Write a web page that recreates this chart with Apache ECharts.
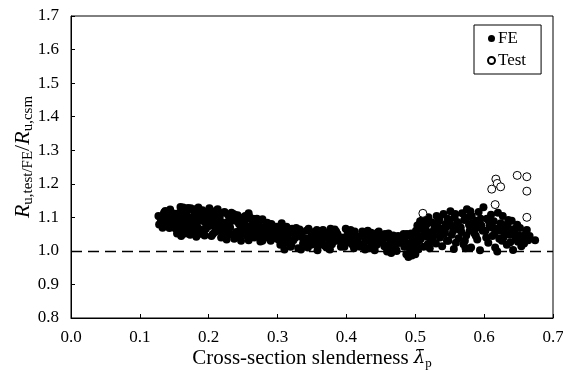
<!DOCTYPE html>
<html>
<head>
<meta charset="utf-8">
<script src="https://cdn.jsdelivr.net/npm/echarts@6/dist/echarts.min.js"></script>
<style>
html,body{margin:0;padding:0;background:#fff;}
#chart{width:563px;height:374px;}
</style>
</head>
<body>
<div id="chart"></div>
<script>
// x-axis ticks and y-axis ticks
var xTicks = [0.0, 0.1, 0.2, 0.3, 0.4, 0.5, 0.6, 0.7];
var yTicks = [0.8, 0.9, 1.0, 1.1, 1.2, 1.3, 1.4, 1.5, 1.6, 1.7];
var refLineY = 1.0;

// FE results grouped by slenderness range [lambda_p, R_ratio]
var feA = [
[0.127,1.104],[0.131,1.091],[0.128,1.079],[0.135,1.113],[0.130,1.097],[0.139,1.084],[0.133,1.069],[0.142,1.105],[0.137,1.119],[0.146,1.089],
[0.141,1.074],[0.150,1.101],[0.144,1.123],[0.153,1.083],[0.148,1.111],[0.157,1.061],[0.152,1.095],[0.161,1.126],[0.155,1.071],[0.164,1.107],
[0.158,1.087],[0.168,1.119],[0.154,1.052],[0.171,1.093],[0.163,1.129],[0.175,1.079],[0.167,1.113],[0.178,1.065],[0.172,1.099],[0.182,1.125],
[0.176,1.085],[0.186,1.109],[0.180,1.072],[0.159,1.131],[0.189,1.091],[0.184,1.117],[0.193,1.058],[0.187,1.103],[0.196,1.081],[0.191,1.121],
[0.169,1.055],[0.199,1.097],[0.194,1.112],[0.145,1.075],[0.174,1.127],[0.138,1.094],[0.149,1.103],[0.183,1.068],[0.166,1.118],[0.197,1.083],
[0.143,1.098],[0.177,1.122],[0.188,1.064],[0.156,1.108],[0.195,1.088],[0.140,1.115],[0.162,1.077],[0.185,1.129],[0.151,1.093],[0.173,1.048],
[0.198,1.106],[0.147,1.081],[0.181,1.117],[0.165,1.070],[0.192,1.100],[0.136,1.107],[0.170,1.086],[0.190,1.110],[0.160,1.044],[0.179,1.095],
[0.134,1.085],[0.200,1.074],
[0.136,1.116],[0.140,1.101],[0.143,1.068],[0.145,1.117],[0.148,1.097],[0.151,1.082],[0.153,1.111],[0.156,1.090],[0.158,1.076],[0.160,1.122],
[0.163,1.098],[0.165,1.084],[0.167,1.106],[0.170,1.128],[0.173,1.092],[0.175,1.062],[0.177,1.102],[0.180,1.088],[0.183,1.074],[0.185,1.100],
[0.188,1.118],[0.190,1.056],[0.193,1.088],[0.196,1.066],[0.199,1.100],
[0.158,1.060],[0.166,1.052],[0.176,1.058],[0.186,1.050],[0.194,1.046],[0.171,1.066],[0.152,1.066],[0.182,1.042]
];
var feB = [
[0.203,1.112],[0.208,1.094],[0.201,1.127],[0.214,1.068],[0.206,1.104],[0.219,1.084],[0.211,1.120],[0.224,1.046],[0.216,1.098],[0.229,1.076],
[0.221,1.114],[0.234,1.090],[0.226,1.060],[0.239,1.106],[0.213,1.124],[0.244,1.080],[0.231,1.096],[0.249,1.052],[0.236,1.110],[0.254,1.070],
[0.241,1.088],[0.259,1.102],[0.246,1.064],[0.264,1.096],[0.251,1.082],[0.268,1.094],[0.256,1.044],[0.273,1.086],[0.261,1.074],[0.278,1.094],
[0.266,1.086],[0.283,1.058],[0.223,1.116],[0.288,1.078],[0.271,1.088],[0.293,1.066],[0.228,1.108],[0.297,1.072],[0.276,1.050],[0.243,1.102],
[0.281,1.072],[0.205,1.088],[0.233,1.114],[0.286,1.052],[0.210,1.094],[0.291,1.080],[0.238,1.040],[0.253,1.104],[0.218,1.070],[0.296,1.060],
[0.263,1.056],[0.248,1.098],[0.202,1.076],[0.258,1.112],[0.284,1.064],[0.227,1.086],[0.269,1.046],[0.212,1.104],[0.299,1.048],[0.232,1.102],
[0.274,1.058],[0.217,1.084],[0.289,1.038],[0.237,1.096],[0.279,1.040],[0.222,1.078],[0.252,1.090],[0.294,1.054],[0.242,1.106],[0.257,1.070],
[0.267,1.080],[0.282,1.048],[0.207,1.076],[0.262,1.094],[0.277,1.060],[0.247,1.082],[0.292,1.036],[0.215,1.060],[0.287,1.070],[0.230,1.052],
[0.272,1.074],[0.255,1.096],[0.298,1.042],[0.225,1.066],[0.285,1.084],[0.240,1.056],[0.290,1.030],[0.250,1.072],[0.270,1.096],[0.235,1.048],
[0.260,1.064],[0.245,1.080],[0.280,1.038],[0.220,1.058],[0.265,1.076],[0.204,1.044],[0.295,1.068],[0.275,1.028],[0.209,1.056],[0.300,1.072],
[0.213,1.090],[0.218,1.040],[0.226,1.034],[0.231,1.070],[0.237,1.036],[0.244,1.042],[0.252,1.050],[0.258,1.032],[0.263,1.052],
[0.271,1.062],[0.278,1.030],[0.286,1.046],[0.293,1.062],[0.206,1.050],[0.247,1.030],[0.266,1.040]
];
var feC = [
[0.302,1.050],[0.306,1.082],[0.301,1.034],[0.309,1.062],[0.304,1.018],[0.313,1.072],[0.307,1.044],[0.317,1.056],[0.311,1.026],[0.321,1.066],
[0.315,1.040],[0.325,1.052],[0.319,1.012],[0.329,1.064],[0.323,1.032],[0.333,1.046],[0.327,1.068],[0.337,1.022],[0.331,1.058],[0.341,1.036],
[0.335,1.048],[0.345,1.066],[0.339,1.014],[0.349,1.042],[0.343,1.028],[0.353,1.056],[0.347,1.038],[0.357,1.062],[0.351,1.020],[0.361,1.050],
[0.355,1.034],[0.365,1.060],[0.359,1.016],[0.369,1.044],[0.363,1.026],[0.373,1.054],[0.367,1.038],[0.377,1.066],[0.371,1.010],[0.381,1.048],
[0.375,1.030],[0.385,1.058],[0.379,1.020],[0.389,1.042],[0.383,1.064],[0.393,1.028],[0.387,1.050],[0.397,1.012],[0.391,1.036],[0.305,1.056],
[0.395,1.022],[0.312,1.046],[0.399,1.066],[0.318,1.030],[0.324,1.052],[0.330,1.008],[0.336,1.040],[0.342,1.060],[0.348,1.018],[0.354,1.044],
[0.360,1.028],[0.366,1.062],[0.372,1.014],[0.378,1.050],[0.384,1.034],
[0.303,1.042],[0.308,1.024],[0.314,1.056],[0.320,1.018],[0.326,1.040],[0.332,1.064],[0.338,1.034],[0.344,1.010],[0.350,1.044],[0.356,1.058],
[0.362,1.032],[0.368,1.016],[0.374,1.048],[0.380,1.062],[0.386,1.030],[0.392,1.012],[0.396,1.040],[0.398,1.022],[0.310,1.004],[0.334,1.004],
[0.358,1.002],[0.376,1.004]
];
var feD = [
[0.402,1.056],[0.407,1.024],[0.404,1.046],[0.411,1.008],[0.406,1.062],[0.415,1.032],[0.409,1.050],[0.419,1.016],[0.413,1.040],[0.423,1.058],
[0.417,1.026],[0.427,1.004],[0.421,1.044],[0.431,1.060],[0.425,1.018],[0.435,1.036],[0.429,1.052],[0.439,1.010],[0.433,1.030],[0.443,1.048],
[0.437,1.020],[0.447,1.058],[0.441,1.002],[0.451,1.038],[0.445,1.054],[0.455,1.014],[0.449,1.034],[0.459,0.998],[0.453,1.046],[0.463,1.022],
[0.457,1.040],[0.467,1.006],[0.461,1.052],[0.471,1.028],[0.465,0.994],[0.475,1.044],[0.469,1.016],[0.479,1.036],[0.473,1.000],[0.483,1.050],
[0.477,1.024],[0.487,0.990],[0.481,1.040],[0.491,1.010],[0.485,1.030],[0.495,0.986],[0.489,1.046],[0.498,1.018],[0.493,0.996],[0.497,1.034],
[0.403,1.038],[0.408,1.020],[0.412,1.058],[0.416,1.034],[0.420,1.012],[0.424,1.050],[0.428,1.030],[0.432,1.008],[0.436,1.054],[0.440,1.036],
[0.444,1.018],[0.448,1.042],[0.452,1.026],[0.456,1.050],[0.460,1.004],[0.464,1.030],[0.468,1.046],[0.472,1.004],[0.476,1.024],[0.480,1.040],
[0.484,1.012],[0.488,1.050],[0.492,1.022],[0.496,1.040],[0.499,1.004],[0.490,0.982],[0.494,1.052],[0.486,1.020]
];
var feE = [
[0.501,1.060],[0.500,0.990],[0.503,1.076],[0.502,1.020],[0.505,1.044],[0.507,1.088],[0.504,1.004],[0.509,1.066],[0.506,1.032],[0.511,1.094],
[0.513,1.050],[0.516,1.078],[0.512,1.012],[0.519,1.100],[0.515,1.062],[0.522,1.036],[0.525,1.084],[0.521,1.008],[0.528,1.070],[0.531,1.104],
[0.527,1.046],[0.534,1.088],[0.530,1.022],[0.537,1.066],[0.541,1.110],[0.536,1.040],[0.544,1.080],[0.539,1.014],[0.547,1.096],[0.543,1.058],
[0.551,1.118],[0.546,1.030],[0.554,1.074],[0.557,1.100],[0.553,1.048],[0.561,1.086],[0.556,1.006],[0.564,1.064],[0.568,1.112],[0.563,1.038],
[0.571,1.092],[0.567,1.056],[0.575,1.124],[0.570,1.020],[0.578,1.078],[0.574,1.046],[0.582,1.104],[0.585,1.064],[0.581,1.010],[0.589,1.090],
[0.586,1.052],[0.592,1.116],[0.590,1.034],[0.596,1.076],[0.594,1.002],[0.599,1.130],
[0.502,1.054],[0.508,1.036],[0.510,1.068],[0.517,1.042],[0.520,1.090],[0.524,1.056],[0.526,1.028],[0.533,1.070],[0.535,1.096],[0.540,1.060],
[0.542,1.050],[0.548,1.030],[0.550,1.090],[0.555,1.060],[0.559,1.024],[0.562,1.080],[0.566,1.070],[0.572,1.030],[0.576,1.100],[0.579,1.060],
[0.583,1.082],[0.588,1.044],[0.591,1.070],[0.595,1.096],[0.598,1.060],[0.518,1.020],[0.532,1.050],[0.545,1.072],[0.558,1.110],[0.573,1.008],
[0.580,1.118]
];
var feF = [
[0.602,1.060],[0.604,1.096],[0.606,1.024],[0.608,1.076],[0.610,1.108],[0.612,1.044],[0.614,1.088],[0.616,1.010],[0.618,1.066],[0.620,1.114],
[0.622,1.036],[0.624,1.082],[0.626,1.030],[0.627,1.104],[0.629,1.056],[0.631,1.072],[0.633,1.018],[0.635,1.092],[0.637,1.048],[0.639,1.064],
[0.640,1.090],[0.642,1.003],[0.644,1.056],[0.646,1.038],[0.648,1.078],[0.649,1.027],[0.651,1.046],[0.652,1.068],[0.654,1.014],[0.656,1.040],
[0.658,1.022],[0.660,1.050],[0.662,1.062],[0.664,1.032],[0.666,1.044],[0.674,1.032],
[0.603,1.040],[0.607,1.088],[0.611,1.070],[0.615,1.050],[0.619,0.998],[0.623,1.060],[0.628,1.040],[0.634,1.080],[0.638,1.026],[0.645,1.066]
];
// Test results
var testData = [
[0.511,1.112],[0.617,1.214],[0.619,1.201],[0.611,1.184],[0.624,1.191],
[0.616,1.138],[0.648,1.225],[0.662,1.221],[0.662,1.178],[0.662,1.100]
];

var feData = feA.concat(feB, feC, feD, feE, feF);
var FONT = '"Liberation Serif", "Times New Roman", serif';

var chart = echarts.init(document.getElementById('chart'), null, {renderer: 'canvas'});
chart.setOption({
  animation: false,
  backgroundColor: '#fff',
  textStyle: {fontFamily: FONT, color: '#000'},
  grid: {left: 71, right: 10, top: 16, bottom: 56, show: true, borderColor: '#000', borderWidth: 1,
         containLabel: false, outerBoundsMode: 'none'},
  legend: {
    orient: 'vertical',
    left: 474, top: 25,
    padding: [5, 15, 5, 13],
    itemGap: 5,
    itemWidth: 7, itemHeight: 7,
    borderColor: '#000', borderWidth: 1,
    backgroundColor: '#fff',
    textStyle: {fontFamily: FONT, fontSize: 17, color: '#000', padding: [0, 0, 0, -2]},
    data: [{name: 'FE', icon: 'circle'}, {name: 'Test', icon: 'circle'}]
  },
  xAxis: {
    type: 'value', min: xTicks[0], max: xTicks[xTicks.length - 1], interval: 0.1,
    name: '{t|Cross-section slenderness }{l|λ̄}{s|p}',
    nameLocation: 'middle', nameGap: 28, nameMoveOverlap: false,
    nameTextStyle: {
      rich: {
        t: {fontFamily: FONT, fontSize: 21, color: '#000', lineHeight: 24},
        l: {fontFamily: '"DejaVu Serif", serif', fontSize: 18, fontStyle: 'italic', color: '#000', lineHeight: 24},
        s: {fontFamily: FONT, fontSize: 13, color: '#000', lineHeight: 15, verticalAlign: 'bottom'}
      }
    },
    axisLine: {lineStyle: {color: '#000', width: 1}},
    axisTick: {inside: true, length: 4, lineStyle: {color: '#000'}},
    axisLabel: {fontFamily: FONT, fontSize: 17, color: '#000', margin: 11,
      formatter: function (v) { return v.toFixed(1); }},
    splitLine: {show: false}
  },
  yAxis: {
    type: 'value', min: yTicks[0], max: yTicks[yTicks.length - 1], interval: 0.1,
    name: '{r|R}{s|u,test/FE}{n|/}{r|R}{s|u,csm}',
    nameLocation: 'middle', nameGap: 35, nameRotate: 90, nameMoveOverlap: false,
    nameTextStyle: {
      padding: [0, 0, 0, 20],
      rich: {
        r: {fontFamily: FONT, fontSize: 22, fontStyle: 'italic', color: '#000', lineHeight: 26},
        n: {fontFamily: FONT, fontSize: 22, color: '#000', lineHeight: 26},
        s: {fontFamily: FONT, fontSize: 15, color: '#000', lineHeight: 17, verticalAlign: 'bottom'}
      }
    },
    axisLine: {lineStyle: {color: '#000', width: 1}},
    axisTick: {inside: true, length: 4, lineStyle: {color: '#000'}},
    axisLabel: {fontFamily: FONT, fontSize: 17, color: '#000', margin: 12,
      formatter: function (v) { return v.toFixed(1); }},
    splitLine: {show: false}
  },
  series: [
    {
      name: 'FE', type: 'scatter', data: feData, symbol: 'circle', symbolSize: 8,
      itemStyle: {color: '#000', opacity: 1},
      markLine: {
        silent: true, symbol: 'none', animation: false,
        label: {show: false},
        lineStyle: {color: '#000', width: 1.4, type: [11, 6]},
        data: [{yAxis: refLineY}]
      },
      z: 3
    },
    {
      name: 'Test', type: 'scatter', data: testData, symbol: 'circle', symbolSize: 8,
      itemStyle: {color: '#fff', borderColor: '#000', borderWidth: 1, opacity: 1},
      z: 4
    }
  ]
});
</script>
</body>
</html>
